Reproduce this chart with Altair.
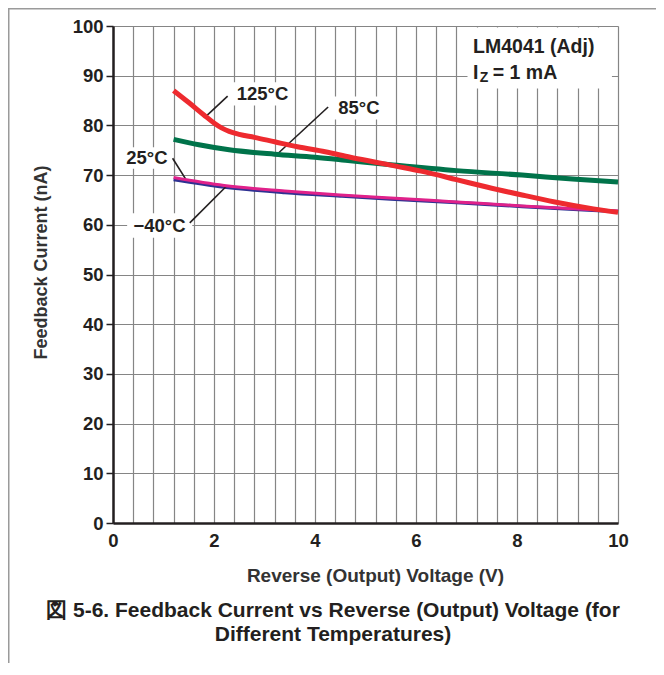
import altair as alt
import pandas as pd

# ---- data ----
x125 = [1.2, 1.5, 1.8, 2.0, 2.15, 2.3, 2.5, 2.8, 3.2, 3.65, 4.2, 4.7, 5.2, 5.6, 6.1, 6.8, 7.4, 8.1, 8.75, 9.4, 10.0]
y125 = [87.0, 84.6, 82.1, 80.5, 79.5, 78.8, 78.2, 77.6, 76.7, 75.7, 74.7, 73.6, 72.6, 71.8, 70.8, 69.1, 67.6, 66.0, 64.6, 63.4, 62.5]

x85 = [1.2, 1.7, 2.3, 3.2, 4.0, 4.7, 5.5, 6.8, 8.1, 9.1, 10.0]
y85 = [77.2, 76.1, 75.1, 74.2, 73.6, 72.9, 72.1, 70.9, 70.0, 69.2, 68.6]

x25 = [1.2, 2.2, 3.4, 4.5, 5.5, 6.8, 8.1, 9.4, 10.0]
y25 = [69.5, 67.9, 66.8, 66.0, 65.4, 64.6, 63.8, 63.1, 62.8]

xm40 = [1.2, 2.2, 3.4, 4.5, 5.5, 6.8, 8.1, 9.4, 10.0]
ym40 = [69.1, 67.6, 66.5, 65.8, 65.2, 64.5, 63.7, 63.0, 62.7]

# curve labels (text centre) and their white boxes
lab_text = ["125°C", "85°C", "25°C", "−40°C"]
lab_x = [2.96, 4.87, 0.67, 0.92]
lab_y = [86.3, 83.5, 73.4, 59.8]
box_x1 = [2.30, 4.35, 0.20, 0.28]
box_x2 = [3.58, 5.40, 1.14, 1.57]
box_y1 = [84.0, 81.2, 71.3, 57.4]
box_y2 = [88.7, 85.8, 75.6, 62.3]
# leader lines: label end -> curve end
lead_x1 = [2.27, 4.26, 1.18, 1.52]
lead_y1 = [85.9, 83.7, 73.4, 60.4]
lead_x2 = [1.83, 3.25, 1.44, 2.25]
lead_y2 = [81.7, 74.2, 69.2, 67.8]

# condition note
note_text = ["LM4041 (Adj)", "I", "Z", "= 1 mA"]
note_x = [7.13, 7.13, 7.26, 7.52]
note_y = [95.8, 90.5, 89.5, 90.5]
note_size = [19.5, 19.5, 14, 19.5]
note_box = dict(x=7.02, x2=9.88, y=87.4, y2=99.7)

# figure caption
caption = ["図 5-6. Feedback Current vs Reverse (Output) Voltage (for", "Different Temperatures)"]

x_grid = [round(i * 0.4, 1) for i in range(26)]
y_ticks = list(range(0, 101, 10))

FONT = "Liberation Sans"
INK = "#231f20"
TITLE_INK = "#333333"

df125 = pd.DataFrame({"v": x125, "i": y125})
df85 = pd.DataFrame({"v": x85, "i": y85})
df25 = pd.DataFrame({"v": x25, "i": y25})
dfm40 = pd.DataFrame({"v": xm40, "i": ym40})
labels = pd.DataFrame({"t": lab_text, "x": lab_x, "y": lab_y})
boxes = pd.DataFrame({"x": box_x1, "x2": box_x2, "y": box_y1, "y2": box_y2})
leads = pd.DataFrame({"x": lead_x1, "x2": lead_x2, "y": lead_y1, "y2": lead_y2})
notes = pd.DataFrame({"t": note_text, "x": note_x, "y": note_y, "s": note_size})
notebox = pd.DataFrame([note_box])
one = pd.DataFrame({"a": [0]})

xscale = alt.Scale(domain=[0, 10], nice=False, zero=False)
yscale = alt.Scale(domain=[0, 100], nice=False)

xaxis = alt.Axis(
    values=x_grid, tickCount=40,
    labelExpr="abs(datum.value/2 - round(datum.value/2)) < 0.01 ? format(datum.value, 'd') : ''",
    title="Reverse (Output) Voltage (V)",
    tickSize=0, labelPadding=8, titlePadding=17, titleX=262,
    grid=True, gridColor="#858585", gridWidth=1.2,
    domainColor=INK, domainWidth=2.5,
    labelFont=FONT, labelFontSize=18.5, labelFontWeight="bold", labelColor=INK,
    titleFont=FONT, titleFontSize=19, titleFontWeight="bold", titleColor=TITLE_INK,
    labelFlush=False, labelOverlap=False,
)
yaxis = alt.Axis(
    values=y_ticks, tickCount=40,
    title="Feedback Current (nA)",
    tickSize=7, tickColor=INK, tickWidth=1.5, labelPadding=3, titlePadding=22,
    titleY=236,
    grid=True, gridColor="#858585", gridWidth=1.2,
    domainColor=INK, domainWidth=2.5,
    labelFont=FONT, labelFontSize=18.5, labelFontWeight="bold", labelColor=INK,
    titleFont=FONT, titleFontSize=18, titleFontWeight="bold", titleColor=TITLE_INK,
    labelFlush=False, labelOverlap=False,
)

def curve(df, color, width):
    return alt.Chart(df).mark_line(color=color, strokeWidth=width, interpolate="monotone").encode(
        x=alt.X("v:Q", scale=xscale, axis=xaxis),
        y=alt.Y("i:Q", scale=yscale, axis=yaxis),
    )

c_blue = curve(dfm40, "#2e3192", 3.5)
c_mag = curve(df25, "#e0218a", 3.0)
c_green = curve(df85, "#00734a", 5.0)
c_red = curve(df125, "#ee2a2f", 5.0)

box_layer = alt.Chart(boxes).mark_rect(color="white").encode(
    x="x:Q", x2="x2", y="y:Q", y2="y2")
notebox_layer = alt.Chart(notebox).mark_rect(color="white").encode(
    x="x:Q", x2="x2", y="y:Q", y2="y2")
lead_layer = alt.Chart(leads).mark_rule(color=INK, strokeWidth=1.6).encode(
    x="x:Q", x2="x2", y="y:Q", y2="y2")
label_layer = alt.Chart(labels).mark_text(
    font=FONT, fontSize=18.5, fontWeight="bold", color=INK, align="center", baseline="middle"
).encode(x="x:Q", y="y:Q", text="t:N")
note_layer = alt.Chart(notes).mark_text(
    font=FONT, fontWeight="bold", color=INK, align="left", baseline="middle"
).encode(x="x:Q", y="y:Q", text="t:N", size=alt.Size("s:Q", scale=None, legend=None))

cap1 = alt.Chart(one).mark_text(
    text=caption[0], font=FONT, fontSize=21, fontWeight="bold", color=INK, align="center", baseline="middle"
).encode(x=alt.value(220), y=alt.value(585))
cap2 = alt.Chart(one).mark_text(
    text=caption[1], font=FONT, fontSize=21, fontWeight="bold", color=INK, align="center", baseline="middle"
).encode(x=alt.value(220), y=alt.value(609))

frame_left = alt.Chart(one).mark_rect(color="#9a9a9a").encode(
    x=alt.value(-105), x2=alt.value(-103.5), y=alt.value(-18), y2=alt.value(640))
frame_top = alt.Chart(one).mark_rect(color="#9a9a9a").encode(
    x=alt.value(-105), x2=alt.value(545), y=alt.value(-18), y2=alt.value(-16.5))

chart = alt.layer(
    c_blue, box_layer, notebox_layer, lead_layer, c_mag, c_green, c_red, label_layer, note_layer,
    cap1, cap2, frame_left, frame_top,
).properties(
    width=505,
    height=497,
    autosize=alt.AutoSizeParams(type="none"),
    padding={"left": 105, "top": 18, "right": 38, "bottom": 140},
).configure_view(stroke=INK, strokeWidth=2.5).configure(background="white")

chart.save("out.html", embed_options={"renderer": "svg", "actions": False})
